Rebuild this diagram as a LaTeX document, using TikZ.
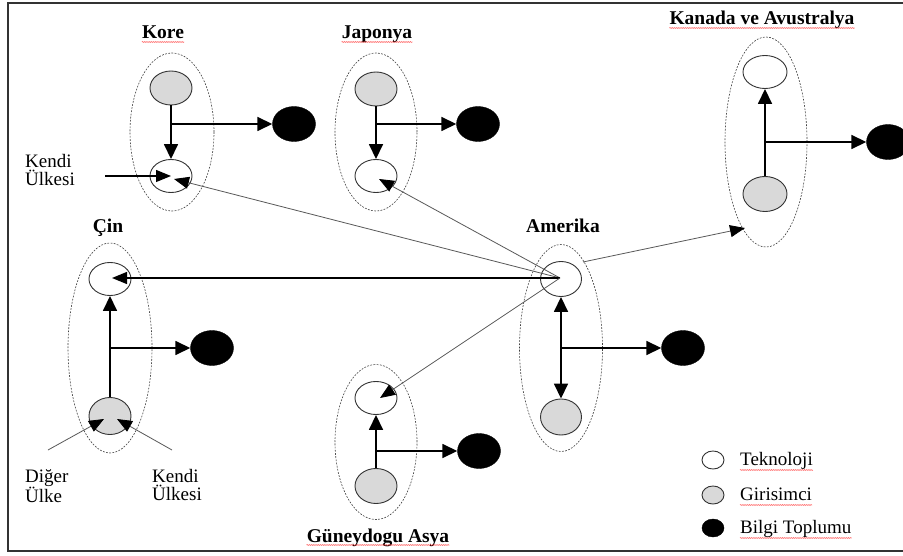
\documentclass[tikz,border=0pt]{standalone}
\usepackage{fontspec}
\setmainfont{Liberation Serif}
\usetikzlibrary{shapes.geometric,arrows.meta,decorations.pathmorphing}
\begin{document}
\begin{tikzpicture}[x=1pt,y=-1pt,
  grp/.style={ellipse,draw=black!75,dash pattern=on 1.8pt off 1.4pt,line width=0.6pt,inner sep=0pt},
  tek/.style={ellipse,draw=black!80,line width=0.9pt,inner sep=0pt,minimum width=42pt,minimum height=34pt},
  gir/.style={tek,fill=black!15},
  bil/.style={ellipse,draw=black,fill=black,inner sep=0pt,minimum width=43pt,minimum height=35pt},
  head/.style={inner sep=0pt,font=\fontsize{19.5}{19.5}\selectfont\bfseries},
  txt/.style={inner sep=0pt,font=\fontsize{19}{18.5}\selectfont,align=left},
  thick/.style={line width=1.6pt,black,-{Triangle[length=15pt,width=14pt]}},
  thin/.style={line width=0.8pt,black!65,-{Triangle[length=15pt,width=12pt,fill=black,color=black]}},
  spell/.style={red!80,line width=0.5pt,decorate,decoration={snake,amplitude=0.4pt,segment length=2.2pt}}
]
\clip (0,0) rectangle (903,556);
\fill[white] (0,0) rectangle (903,556);
% frame
\draw[line width=1.6pt,black!80] (920,3) -- (8,3) -- (8,551) -- (920,551);

% ---------------- Kore
\node[head,anchor=base] (koreL) at (163,39) {Kore};
\node[grp,minimum width=84pt,minimum height=158pt] (kE) at (172,132) {};
\node[gir] (kG) at (171,88) {};
\node[tek,minimum height=33pt] (kW) at (171,176) {};
\node[bil] (kB) at (294,124) {};
\draw[thick] (kG.south) -- (kW.north);
\draw[thick] (kG.south |- kB.west) -- (kB.west);
\node[txt,anchor=north west] (kKendi) at (25,154) {Kendi\\Ülkesi};
\coordinate (kStart) at (105,176);
\coordinate (kTip) at (171,176);
\draw[line width=1.2pt,black,-{Triangle[length=15pt,width=12pt]}] (kStart) -- (kTip);

% ---------------- Japonya
\node[head,anchor=base] (japL) at (377,39) {Japonya};
\node[grp,minimum width=82pt,minimum height=158pt] (jE) at (376,132) {};
\node[gir] (jG) at (376,89) {};
\node[tek,minimum height=33pt] (jW) at (376,176) {};
\node[bil] (jB) at (478,124) {};
\draw[thick] (jG.south) -- (jW.north);
\draw[thick] (jG.south |- jB.west) -- (jB.west);

% ---------------- Kanada ve Avustralya
\node[head,anchor=base] (kanL) at (762,25) {Kanada ve Avustralya};
\node[grp,minimum width=82pt,minimum height=210pt] (caE) at (766,142) {};
\node[tek,minimum width=44pt,minimum height=33pt] (caW) at (765,72) {};
\node[gir,minimum width=44pt,minimum height=35pt] (caG) at (765,194) {};
\node[bil] (caB) at (888,142) {};
\draw[thick] (caG.north) -- (caW.south);
\draw[thick] (caG.north |- caB.west) -- (caB.west);

% ---------------- Cin
\node[head,anchor=base] (cinL) at (108,233) {Çin};
\node[grp,minimum width=84pt,minimum height=210pt] (cE) at (110,348) {};
\node[tek,minimum height=33pt] (cW) at (110,279) {};
\node[gir,minimum height=37pt] (cG) at (110,416) {};
\node[bil] (cB) at (212,348) {};
\draw[thick] (cG.north) -- (cW.south);
\draw[thick] (cG.north |- cB.west) -- (cB.west);
\node[txt,anchor=north west] (cDiger) at (25,469) {Diğer\\Ülke};
\node[txt,anchor=north west] (cKendi) at (152,469) {Kendi\\Ülkesi};
\coordinate (cD1) at (48,450);
\coordinate (cD2) at (104,419);
\coordinate (cK1) at (172,450);
\coordinate (cK2) at (117,419);
\draw[thin] (cD1) -- (cD2);
\draw[thin] (cK1) -- (cK2);

% ---------------- Amerika
\node[head,anchor=base] (amL) at (563,233) {Amerika};
\node[grp,minimum width=83pt,minimum height=207pt] (aE) at (561,348) {};
\node[tek,minimum width=41pt,minimum height=35pt] (aW) at (561,279) {};
\node[gir,minimum width=41pt,minimum height=36pt] (aG) at (561,417) {};
\node[bil] (aB) at (683,348) {};
\draw[thick,{Triangle[length=15pt,width=14pt]}-{Triangle[length=15pt,width=14pt]}] (aW.south) -- (aG.north);
\draw[line width=1.6pt,black,-{Triangle[length=15pt,width=14pt]}] (aW.south |- aB.west) -- (aB.west);

% ---------------- Guneydogu Asya
\node[head,anchor=base] (gunL) at (378,542) {Güneydogu Asya};
\node[grp,minimum width=82pt,minimum height=155pt] (gE) at (376,442) {};
\node[tek,minimum height=33pt] (gW) at (376,398) {};
\node[gir,minimum height=35pt] (gG) at (376,486) {};
\node[bil] (gB) at (479,451) {};
\draw[thick] (gG.north) -- (gW.south);
\draw[thick] (gG.north |- gB.west) -- (gB.west);

% ---------------- links from Amerika
\coordinate (amC) at (560,278);
\coordinate (amR) at (583,262);
\coordinate (kTipA) at (174,179);
\coordinate (jTip) at (379,179);
\coordinate (cTip) at (112,278);
\coordinate (gTip) at (380,398);
\coordinate (caTip) at (745,228);
\draw[thin] (amC) -- (kTipA);
\draw[thin] (amC) -- (jTip);
\draw[line width=1.3pt,black,-{Triangle[length=15pt,width=12pt]}] (amC) -- (cTip);
\draw[thin] (amC) -- (gTip);
\draw[thin] (amR) -- (caTip);

% ---------------- legend
\node[tek,minimum width=22pt,minimum height=18pt] (lW) at (713,460) {};
\node[gir,minimum width=22pt,minimum height=18pt] (lG) at (713,495) {};
\node[bil,minimum width=22pt,minimum height=18pt] (lB) at (713,528) {};
\node[txt,anchor=base west] (lWt) at (740,465) {Teknoloji};
\node[txt,anchor=base west] (lGt) at (740,500) {Girisimci};
\node[txt,anchor=base west] (lBt) at (740,533) {Bilgi Toplumu};

% spell-check underlines
\foreach \n in {koreL,japL,kanL,gunL}
  \draw[spell] ([yshift=-3pt]\n.base west) -- ([yshift=-3pt]\n.base east);
\foreach \n in {lWt,lGt,lBt}
  \draw[spell] ([yshift=-5pt]\n.base west) -- ([yshift=-5pt]\n.base east);
\end{tikzpicture}
\end{document}
